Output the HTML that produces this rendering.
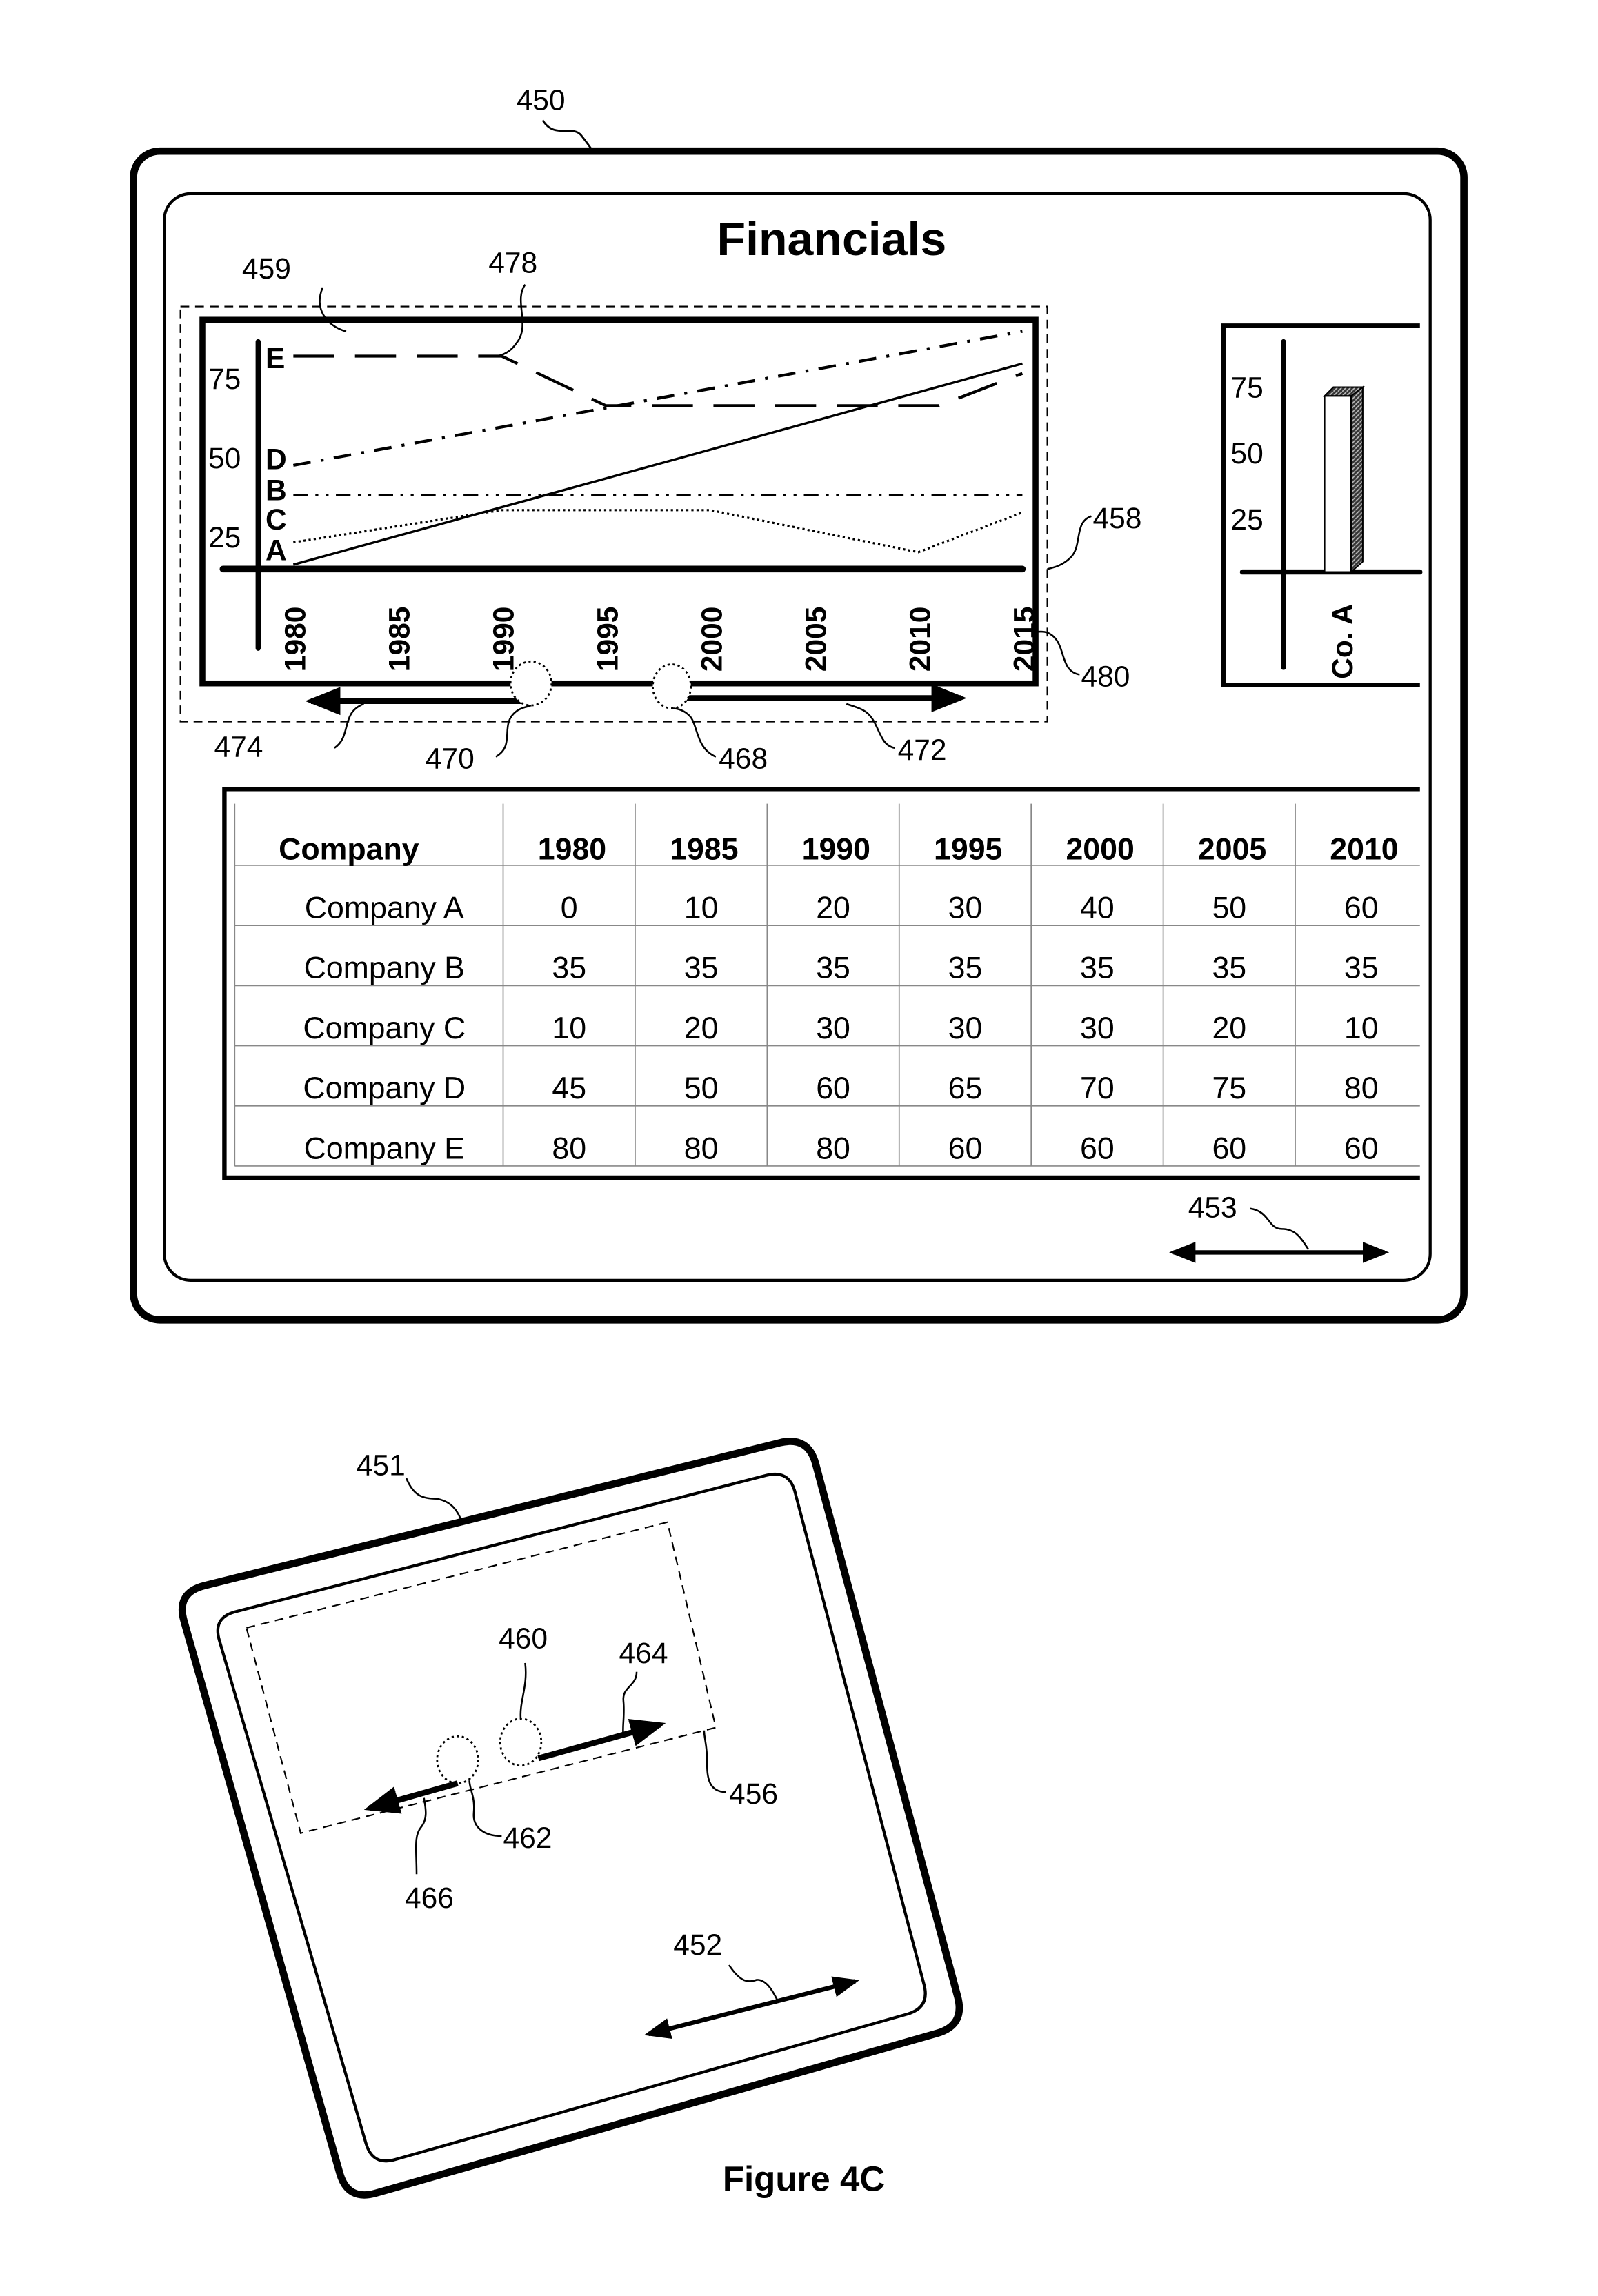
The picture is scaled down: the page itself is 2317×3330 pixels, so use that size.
<!DOCTYPE html>
<html><head><meta charset="utf-8"><style>
html,body{margin:0;padding:0;background:#fff}
svg{display:block}
text{font-family:"Liberation Sans",Arial,sans-serif;fill:#000}
</style></head><body>
<svg id="fig" width="2317" height="3330" viewBox="0 0 1089.4 1565.6" xmlns="http://www.w3.org/2000/svg">
<defs>
<marker id="ah" markerWidth="6" markerHeight="6" refX="5" refY="3" orient="auto" markerUnits="strokeWidth"><path d="M0,0.6 L6,3 L0,5.4 Z" fill="#000"/></marker>
<marker id="ahs" markerWidth="6" markerHeight="6" refX="1" refY="3" orient="auto" markerUnits="strokeWidth"><path d="M6,0.6 L0,3 L6,5.4 Z" fill="#000"/></marker>
<pattern id="hatch" width="3" height="3" patternUnits="userSpaceOnUse"><rect width="3" height="3" fill="#333"/><path d="M0,3 L3,0" stroke="#bbb" stroke-width="0.8"/></pattern>
</defs>

<g>
<rect x="91" y="103" width="907" height="797" rx="18" fill="none" stroke="#000" stroke-width="5"/>
<rect x="112" y="132" width="863" height="741" rx="18" fill="none" stroke="#000" stroke-width="2"/>
</g>
<text x="352" y="75" font-size="20">450</text>
<path d="M370,82 C378,95 390,85 396,92 C400,97 402,100 405,104" fill="none" stroke="#000" stroke-width="1.3"/>
<text x="567" y="174" font-size="32" font-weight="bold" text-anchor="middle">Financials</text>

<rect x="123" y="209" width="591" height="283" fill="none" stroke="#000" stroke-width="1" stroke-dasharray="6,4"/>
<rect x="138" y="218" width="568" height="248" fill="none" stroke="#000" stroke-width="4"/>
<g id="linechart"></g>

<text x="165" y="190" font-size="20">459</text>
<path d="M220,196 C214,210 222,222 236,226" fill="none" stroke="#000" stroke-width="1.2"/>
<text x="333" y="186" font-size="20">478</text>
<path d="M358,194 C350,205 362,222 352,234 C348,240 343,242 338,243" fill="none" stroke="#000" stroke-width="1.2"/>
<text x="745" y="360" font-size="20">458</text>
<path d="M744,352 C732,356 738,372 730,380 C724,386 718,387 714,388" fill="none" stroke="#000" stroke-width="1.2"/>
<text x="737" y="468" font-size="20">480</text>
<path d="M736,460 C724,458 726,444 720,436 C716,431 712,430 706,431" fill="none" stroke="#000" stroke-width="1.2"/>

<line x1="355" y1="478" x2="212" y2="478" stroke="#000" stroke-width="4" marker-end="url(#ah)"/>
<line x1="467" y1="476" x2="655" y2="476" stroke="#000" stroke-width="4" marker-end="url(#ah)"/>
<ellipse cx="362" cy="466" rx="14" ry="15" fill="#fff" stroke="#000" stroke-width="1.3" stroke-dasharray="1.5,2"/>
<ellipse cx="458" cy="468" rx="13" ry="15" fill="#fff" stroke="#000" stroke-width="1.3" stroke-dasharray="1.5,2"/>
<text x="146" y="516" font-size="20">474</text>
<path d="M228,510 C240,502 232,486 248,480" fill="none" stroke="#000" stroke-width="1.2"/>
<text x="290" y="524" font-size="20">470</text>
<path d="M338,516 C352,508 340,494 352,485 C356,482 360,482 362,481" fill="none" stroke="#000" stroke-width="1.2"/>
<text x="490" y="524" font-size="20">468</text>
<path d="M488,516 C474,510 476,494 470,488 C466,484 462,483 458,483" fill="none" stroke="#000" stroke-width="1.2"/>
<text x="612" y="518" font-size="20">472</text>
<path d="M610,510 C598,508 600,490 588,484 C584,482 580,481 577,480" fill="none" stroke="#000" stroke-width="1.2"/>

<g>
<path d="M968,222 L834,222 L834,467 L968,467" fill="none" stroke="#000" stroke-width="3"/>
<line x1="875" y1="233" x2="875" y2="455" stroke="#000" stroke-width="3.5" stroke-linecap="round"/>
<line x1="847" y1="390" x2="968" y2="390" stroke="#000" stroke-width="3.5" stroke-linecap="round"/>
<text x="839" y="271" font-size="20">75</text>
<text x="839" y="316" font-size="20">50</text>
<text x="839" y="361" font-size="20">25</text>
<path d="M921,270 L929,264 L929,383 L921,390 Z" fill="url(#hatch)" stroke="#000" stroke-width="1"/>
<path d="M903,270 L909,264 L929,264 L921,270 Z" fill="url(#hatch)" stroke="#000" stroke-width="1"/>
<rect x="903" y="270" width="18" height="120" fill="#fff" stroke="#000" stroke-width="1"/>
<text transform="translate(922,463) rotate(-90)" font-size="20" font-weight="bold">Co. A</text>
</g>

<path d="M968,538 L153,538 L153,803 L968,803" fill="none" stroke="#000" stroke-width="3"/>
<g id="table"></g>

<line x1="800" y1="854" x2="944" y2="854" stroke="#000" stroke-width="3" marker-start="url(#ahs)" marker-end="url(#ah)"/>
<text x="810" y="830" font-size="20">453</text>
<path d="M852,824 C866,826 864,838 874,838 C884,838 888,846 892,852" fill="none" stroke="#000" stroke-width="1.2"/>

<path id="dev451outer" fill="none" stroke="#000" stroke-width="5"/>
<path id="dev451inner" fill="none" stroke="#000" stroke-width="2"/>
<polygon points="168,1110 455,1038 488,1178 205,1250" fill="none" stroke="#000" stroke-width="1" stroke-dasharray="6,4"/>
<ellipse cx="312" cy="1200" rx="14" ry="16" fill="#fff" stroke="#000" stroke-width="1.3" stroke-dasharray="1.5,2"/>
<ellipse cx="355" cy="1188" rx="14" ry="16" fill="#fff" stroke="#000" stroke-width="1.3" stroke-dasharray="1.5,2"/>
<line x1="312" y1="1216" x2="252" y2="1233" stroke="#000" stroke-width="4" marker-end="url(#ah)"/>
<line x1="367" y1="1199" x2="450" y2="1176" stroke="#000" stroke-width="4" marker-end="url(#ah)"/>
<line x1="442" y1="1387" x2="583" y2="1351" stroke="#000" stroke-width="3" marker-start="url(#ahs)" marker-end="url(#ah)"/>
<text x="243" y="1006" font-size="20">451</text>
<path d="M277,1008 C282,1020 288,1022 298,1022 C308,1024 312,1030 315,1038" fill="none" stroke="#000" stroke-width="1.2"/>
<text x="340" y="1124" font-size="20">460</text>
<path d="M358,1134 C360,1150 354,1160 355,1172" fill="none" stroke="#000" stroke-width="1.2"/>
<text x="422" y="1134" font-size="20">464</text>
<path d="M434,1140 C434,1150 424,1150 425,1160 C426,1170 424,1178 425,1185" fill="none" stroke="#000" stroke-width="1.2"/>
<text x="497" y="1230" font-size="20">456</text>
<path d="M495,1222 C482,1222 482,1210 482,1200 C482,1190 480,1185 480,1180" fill="none" stroke="#000" stroke-width="1.2"/>
<text x="343" y="1260" font-size="20">462</text>
<path d="M342,1252 C330,1252 322,1246 323,1236 C324,1225 320,1220 320,1214" fill="none" stroke="#000" stroke-width="1.2"/>
<text x="276" y="1301" font-size="20">466</text>
<path d="M284,1278 C284,1262 282,1252 287,1246 C292,1240 290,1232 289,1226" fill="none" stroke="#000" stroke-width="1.2"/>
<text x="459" y="1333" font-size="20">452</text>
<path d="M497,1340 C505,1352 510,1352 516,1350 C522,1350 526,1356 530,1364" fill="none" stroke="#000" stroke-width="1.2"/>
<text x="548" y="1494" font-size="24" font-weight="bold" text-anchor="middle">Figure 4C</text>
</svg>

<script>
// ---- line chart data ----
const xYears = [1980,1985,1990,1995,2000,2005,2010,2015];
const yTickLabels = ['75','50','25'];
const yTickValues = [75,43,11];
const seriesNames = ['A','B','C','D','E'];
const aYears = [1980,2015];           const aVals = [0,81];
const bYears = [1980,2015];           const bVals = [28,28];
const cYears = [1980,1990,2000,2010,2015]; const cVals = [9,22,22,5,21];
const dYears = [1980,2015];           const dVals = [40,94];
const eYears = [1980,1990,1995,2011,2015]; const eVals = [84,84,64,64,77];
// ---- table data ----
const tableYears = ['1980','1985','1990','1995','2000','2005','2010'];
const companies = ['Company A','Company B','Company C','Company D','Company E'];
const rowA = [0,10,20,30,40,50,60];
const rowB = [35,35,35,35,35,35,35];
const rowC = [10,20,30,30,30,20,10];
const rowD = [45,50,60,65,70,75,80];
const rowE = [80,80,80,60,60,60,60];

const NS='http://www.w3.org/2000/svg';
function mk(tag, attrs, parent){const e=document.createElementNS(NS,tag);for(const k in attrs)e.setAttribute(k,attrs[k]);parent.appendChild(e);return e;}

// rounded quadrilateral for tilted device
function roundPoly(pts, r){
  let d='';
  const n=pts.length;
  for(let i=0;i<n;i++){
    const p=pts[i], a=pts[(i+n-1)%n], b=pts[(i+1)%n];
    const da=Math.hypot(a[0]-p[0],a[1]-p[1]), db=Math.hypot(b[0]-p[0],b[1]-p[1]);
    const s=[p[0]+(a[0]-p[0])*r/da, p[1]+(a[1]-p[1])*r/da];
    const e=[p[0]+(b[0]-p[0])*r/db, p[1]+(b[1]-p[1])*r/db];
    d+=(i?'L':'M')+s[0].toFixed(1)+','+s[1].toFixed(1)+' Q'+p[0]+','+p[1]+' '+e[0].toFixed(1)+','+e[1].toFixed(1)+' ';
  }
  return d+'Z';
}
document.getElementById('dev451outer').setAttribute('d', roundPoly([[120,1086],[551,979],[658,1381],[237,1501]],20));
document.getElementById('dev451inner').setAttribute('d', roundPoly([[145,1103],[538,1002],[634,1369],[254,1477]],16));

const xs = y => 200 + (y-1980)*(497/35);
const ys = v => 385 - v*1.693;
const g = document.getElementById('linechart');

let ax = mk('line',{x1:176,y1:233,x2:176,y2:442,stroke:'#000','stroke-width':3.5,'stroke-linecap':'round'},g);


let bx = mk('line',{x1:152,y1:ys(0)+3,x2:697,y2:ys(0)+3,stroke:'#000','stroke-width':4.5,'stroke-linecap':'round'},g);



yTickLabels.forEach((t,i)=>{
  const e = mk('text',{x:142,y:ys(yTickValues[i])+7,'font-size':20},g);
  e.textContent=t;
  
  
});
xYears.forEach(yr=>{
  const e = mk('text',{transform:`translate(${xs(yr)+8},458) rotate(-90)`,'font-size':20,'font-weight':'bold'},g);
  e.textContent=yr;
  
  
});

const series = [
  {n:'A', yrs:aYears, v:aVals, dash:'none', w:1.6},
  {n:'B', yrs:bYears, v:bVals, dash:'10,5,2,5,2,5', w:1.8},
  {n:'C', yrs:cYears, v:cVals, dash:'1.5,2', w:1.5},
  {n:'D', yrs:dYears, v:dVals, dash:'12,7,2,7', w:2},
  {n:'E', yrs:eYears, v:eVals, dash:'28,14', w:2},
];
series.forEach(s=>{
  const d = s.yrs.map((y,i)=>(i?'L':'M')+xs(y).toFixed(1)+','+ys(s.v[i]).toFixed(1)).join(' ');
  const p = mk('path',{d:d,fill:'none',stroke:'#000','stroke-width':s.w,'stroke-dasharray':s.dash},g);
  
  
});
const letterY = {E:251,D:320,B:341,C:361,A:382};
seriesNames.forEach(n=>{
  const e = mk('text',{x:181,y:letterY[n],'font-size':20,'font-weight':'bold'},g);
  e.textContent=n;
  
  
});

const t = document.getElementById('table');
const colX = [160,343,433,523,613,703,793,883,973];
const rowY = [548,590,631,672,713,754,795];
for(let i=1;i<colX.length-1;i++){
  const l = mk('line',{x1:colX[i],y1:548,x2:colX[i],y2:795,stroke:'#888','stroke-width':0.8},t);
  
  
}
for(let r=1;r<rowY.length;r++){
  const l = mk('line',{x1:160,y1:rowY[r],x2:968,y2:rowY[r],stroke:'#888','stroke-width':0.8},t);
  
  
}
const lv = mk('line',{x1:160,y1:548,x2:160,y2:795,stroke:'#888','stroke-width':0.8},t);


let h = mk('text',{x:190,y:586,'font-size':21,'font-weight':'bold'},t);
h.textContent='Company';


tableYears.forEach((y,i)=>{
  const e = mk('text',{x:(colX[i+1]+colX[i+2])/2+2,y:586,'font-size':21,'font-weight':'bold','text-anchor':'middle'},t);
  e.textContent=y;
  
  
});
const rows=[rowA,rowB,rowC,rowD,rowE];
companies.forEach((c,r)=>{
  const yy = rowY[r+1]+36;
  const e = mk('text',{x:262,y:yy,'font-size':21,'text-anchor':'middle'},t);
  e.textContent=c;
  
  
  rows[r].forEach((v,i)=>{
    const c2 = mk('text',{x:(colX[i+1]+colX[i+2])/2,y:yy,'font-size':21,'text-anchor':'middle'},t);
    c2.textContent=v;
    
    
  });
});
</script>
</body></html>
